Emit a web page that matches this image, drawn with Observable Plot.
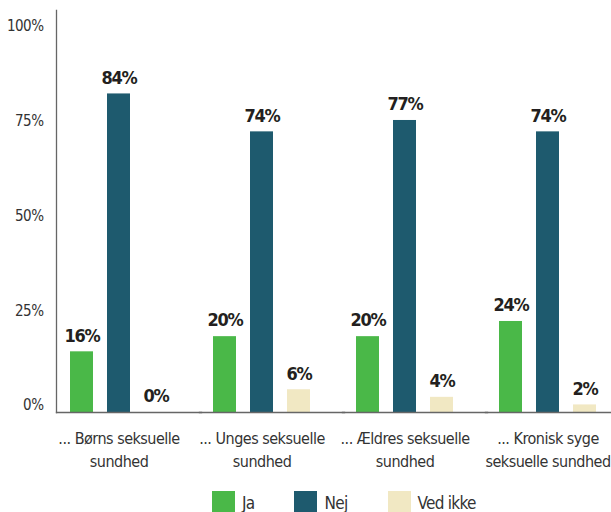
<!DOCTYPE html>
<html>
<head>
<meta charset="utf-8">
<script src="https://cdn.jsdelivr.net/npm/d3@7"></script>
<script src="https://cdn.jsdelivr.net/npm/@observablehq/plot@0.6"></script>
<style>
  body { margin: 0; background: #fff; }
  #chart { font-family: "Liberation Sans Narrow", "DejaVu Sans Condensed", sans-serif; }
  #chart svg text { letter-spacing: -0.5px; }
  #chart svg .vals text { letter-spacing: -1.2px; }
  .lg-swatches { margin-left: 212px !important; margin-top: 4px !important; font-size: 17px !important;
    font-family: "Liberation Sans Narrow", "DejaVu Sans Condensed", sans-serif !important; color: #333;
    letter-spacing: -0.7px; }
  .lg-swatch { margin-right: 40px !important; }
  .lg-swatch > svg { margin-right: 7px !important; }
</style>
</head>
<body>
<div id="chart"></div>
<script>
const groups = ["... Børns seksuelle\nsundhed", "... Unges seksuelle\nsundhed", "... Ældres seksuelle\nsundhed", "... Kronisk syge\nseksuelle sundhed"];
const series = ["Ja", "Nej", "Ved ikke"];
const ja = [16, 20, 20, 24];
const nej = [84, 74, 77, 74];
const vedIkke = [0, 6, 4, 2];
const colors = ["#4ab848", "#1e5a6e", "#f1e8c3"];
const yTicks = [0, 25, 50, 75, 100];

const values = [ja, nej, vedIkke];
const data = groups.flatMap((g, i) => series.map((s, j) => ({group: g, series: s, value: values[j][i]})));

const font = '"Liberation Sans Narrow", "DejaVu Sans Condensed", sans-serif';

const chart = Plot.plot({
  width: 611,
  height: 482,
  marginLeft: 57,
  marginRight: 2,
  marginTop: 10,
  marginBottom: 70,
  style: {fontFamily: font, fontSize: "16px", color: "#333", background: "#fff"},
  fx: {domain: groups, paddingInner: 0.126, paddingOuter: -0.014, label: null},
  x: {domain: series, padding: 0.378, axis: null},
  y: {domain: [0, 106], axis: null},
  color: {domain: series, range: colors},
  marks: [
    Plot.barY(data, {fx: "group", x: "series", y: "value", fill: "series"}),
    Plot.text(data, {fx: "group", x: "series", y: "value", text: d => d.value + "%", dy: -16,
      fontWeight: "bold", fontSize: 18, fill: "#231f20", className: "vals"}),
    Plot.axisY({ticks: yTicks, tickSize: 0, tickPadding: 13, tickFormat: d => d + "%", dy: -7,
      fontSize: 15, fill: "#333", label: null}),
    Plot.axisFx({anchor: "bottom", tickSize: 0, tickPadding: 15, lineHeight: 1.44, fontSize: 16, fill: "#333", label: null}),
    Plot.frame({anchor: "left", fx: groups[0], stroke: "#666", strokeWidth: 1.3}),
    Plot.frame({anchor: "bottom", insetRight: -20, stroke: "#666", strokeWidth: 1.3})
  ]
});

const legend = Plot.legend({
  color: {domain: series, range: colors},
  legend: "swatches",
  swatchSize: 23,
  className: "lg"
});

document.getElementById("chart").append(chart, legend);
</script>
</body>
</html>
